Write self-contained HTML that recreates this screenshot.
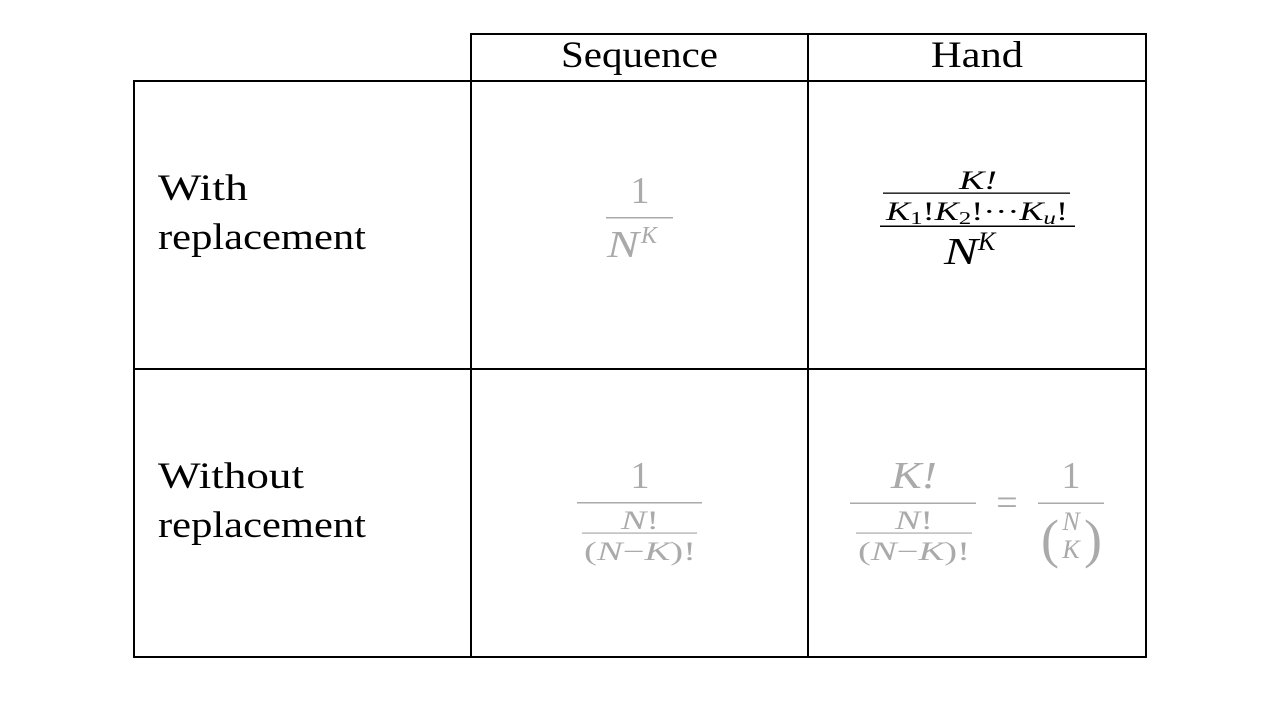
<!DOCTYPE html>
<html><head><meta charset="utf-8"><style>body{margin:0;background:#fff}</style></head><body>
<svg width="1280" height="720" xmlns="http://www.w3.org/2000/svg" font-family="'Liberation Serif', serif">
<rect width="1280" height="720" fill="#fff"/>
<g stroke="#000" stroke-width="2" fill="none">
<rect x="471" y="34" width="675" height="47"/>
<line x1="808" y1="34" x2="808" y2="657"/>
<rect x="134" y="81" width="1012" height="576"/>
<line x1="471" y1="81" x2="471" y2="657"/>
<line x1="134" y1="369" x2="1146" y2="369"/>
</g>
<g font-size="37" fill="#000">
<text x="561" y="67" textLength="157" lengthAdjust="spacingAndGlyphs">Sequence</text>
<text x="931" y="67" textLength="92" lengthAdjust="spacingAndGlyphs">Hand</text>
<text x="158" y="200" textLength="90" lengthAdjust="spacingAndGlyphs">With</text>
<text x="158" y="249" textLength="208" lengthAdjust="spacingAndGlyphs">replacement</text>
<text x="158" y="488" textLength="146" lengthAdjust="spacingAndGlyphs">Without</text>
<text x="158" y="537" textLength="208" lengthAdjust="spacingAndGlyphs">replacement</text>
</g>
<!-- seq row1 -->
<g fill="#aaa" stroke="none">
<text x="640" y="203" font-size="38" text-anchor="middle">1</text>
<rect x="606" y="217" width="67" height="1.5"/>
<text x="607" y="257" font-size="38" font-style="italic" textLength="32" lengthAdjust="spacingAndGlyphs">N</text>
<text x="641" y="243" font-size="24" font-style="italic">K</text>
</g>
<!-- hand row1 -->
<g fill="#000">
<text x="959" y="189" font-size="26" font-style="italic" textLength="38" lengthAdjust="spacingAndGlyphs">K!</text>
<rect x="883" y="192.5" width="187" height="1.3"/>
<text x="886" y="220" font-size="26" textLength="182" lengthAdjust="spacingAndGlyphs"><tspan font-style="italic">K</tspan><tspan font-size="18" dy="4">1</tspan><tspan dy="-4">!</tspan><tspan font-style="italic">K</tspan><tspan font-size="18" dy="4">2</tspan><tspan dy="-4">!···</tspan><tspan font-style="italic">K</tspan><tspan font-size="18" font-style="italic" dy="4">u</tspan><tspan dy="-4">!</tspan></text>
<rect x="880" y="225.5" width="195" height="1.5"/>
<text x="944" y="264" font-size="38" font-style="italic" textLength="34" lengthAdjust="spacingAndGlyphs">N</text>
<text x="978" y="250" font-size="26" font-style="italic">K</text>
</g>
<!-- seq row2 -->
<g fill="#aaa">
<text x="640" y="488" font-size="38" text-anchor="middle">1</text>
<rect x="577" y="502" width="125" height="1.5"/>
<text x="621" y="529" font-size="26" textLength="38" lengthAdjust="spacingAndGlyphs"><tspan font-style="italic">N</tspan>!</text>
<rect x="582" y="532.5" width="115" height="1.2"/>
<text x="584" y="560" font-size="26" textLength="112" lengthAdjust="spacingAndGlyphs">(<tspan font-style="italic">N</tspan>−<tspan font-style="italic">K</tspan>)!</text>
</g>
<!-- hand row2 -->
<g fill="#aaa">
<text x="891" y="488" font-size="38" font-style="italic" textLength="46" lengthAdjust="spacingAndGlyphs">K!</text>
<rect x="850" y="502.5" width="126" height="1.5"/>
<text x="895" y="529" font-size="26" textLength="38" lengthAdjust="spacingAndGlyphs"><tspan font-style="italic">N</tspan>!</text>
<rect x="856" y="532.5" width="116" height="1.2"/>
<text x="858" y="560" font-size="26" textLength="112" lengthAdjust="spacingAndGlyphs">(<tspan font-style="italic">N</tspan>−<tspan font-style="italic">K</tspan>)!</text>
<text x="1007" y="515" font-size="38" text-anchor="middle">=</text>
<text x="1071" y="488" font-size="38" text-anchor="middle">1</text>
<rect x="1038" y="502.5" width="66" height="1.5"/>
<text x="1071" y="530" font-size="26" text-anchor="middle" font-style="italic">N</text>
<text x="1071" y="558" font-size="26" text-anchor="middle" font-style="italic">K</text>
<text x="1050" y="557" font-size="54" text-anchor="middle">(</text>
<text x="1093" y="557" font-size="54" text-anchor="middle">)</text>
</g>
</svg>
</body></html>
